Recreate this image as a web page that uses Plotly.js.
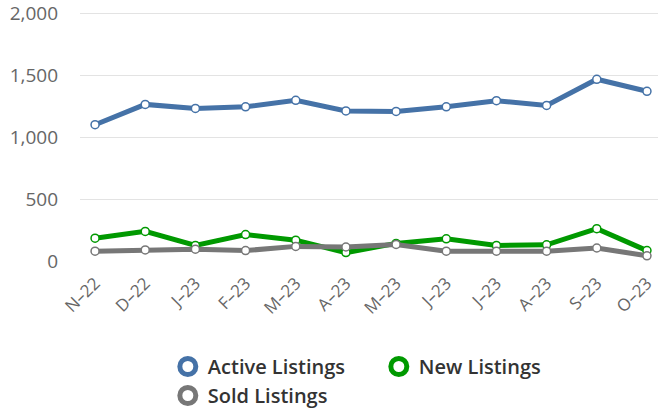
<!DOCTYPE html>
<html><head><meta charset="utf-8">
<script src="https://cdn.plot.ly/plotly-3.0.1.min.js"></script>
<style>html,body{margin:0;padding:0;background:#fff;}#chart{width:658px;height:415px;}</style>
</head><body><div id="chart"></div>
<script>
const months = ["N–22","D–22","J–23","F–23","M–23","A–23","M–23","J–23","J–23","A–23","S–23","O–23"];
const activeListings = [1100,1264,1232,1245,1297,1211,1207,1245,1294,1256,1467,1370];
const newListings = [184,239,126,213,168,68,142,179,126,131,261,84];
const soldListings = [79,89,95,84,118,113,134,79,79,79,105,42];
const seriesNames = ["Active Listings","New Listings","Sold Listings"];
const colors = ["#4572A7","#009900","#777777"];
const yTicks = [0,500,1000,1500,2000];
const yTickText = ["0","500","1,000","1,500","2,000"];

const idx = months.map((_, i) => i);
const allSeries = [activeListings, newListings, soldListings];
const traces = [];
allSeries.forEach((vals, k) => {
  traces.push({
    x: idx, y: vals, type: "scatter", mode: "lines+markers",
    line: {color: colors[k], width: 5},
    marker: {symbol: "circle", size: 8, color: "#ffffff", line: {color: colors[k], width: 1.5}},
    showlegend: false, cliponaxis: false, hoverinfo: "skip"
  });
});
allSeries.forEach((vals, k) => {
  traces.push({
    x: [null], y: [null], type: "scatter", mode: "markers", name: seriesNames[k],
    marker: {symbol: "circle-open", size: 16, color: colors[k], line: {color: colors[k], width: 5}},
    showlegend: true
  });
});

const layout = {
  width: 658, height: 415,
  margin: {l: 80, r: 0, t: 12, b: 153},
  paper_bgcolor: "#ffffff", plot_bgcolor: "#ffffff",
  font: {family: "Open Sans, sans-serif", color: "#666666"},
  xaxis: {
    range: [-0.3, 11.22], tickmode: "array", tickvals: idx, ticktext: months,
    tickangle: -45, showgrid: false, zeroline: false, showline: false,
    tickfont: {size: 17, color: "#666666"}, ticklabelstandoff: 8, fixedrange: true
  },
  yaxis: {
    range: [0, 2010], tickmode: "array", tickvals: yTicks, ticktext: yTickText,
    showgrid: true, gridcolor: "#e3e3e3", gridwidth: 1, zeroline: false, showline: false,
    tickfont: {size: 19, color: "#666666"}, ticklabelstandoff: 21, fixedrange: true,
    ticklabeloverflow: "allow"
  },
  legend: {
    orientation: "h", x: 0.517, xanchor: "center", y: -0.345, yanchor: "top",
    entrywidth: 166, font: {size: 20, color: "#333333", weight: 600},
    itemsizing: "trace"
  },
  showlegend: true
};
Plotly.newPlot("chart", traces, layout, {displayModeBar: false, staticPlot: true});
</script></body></html>
